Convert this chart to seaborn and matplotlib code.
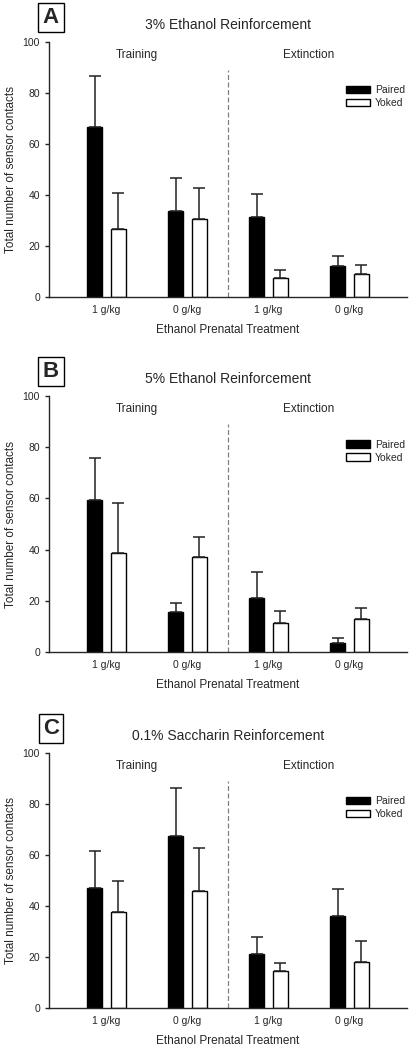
import pandas as pd
import matplotlib.pyplot as plt
import seaborn as sns
from matplotlib.patches import Patch

# x categories (two phases x two prenatal doses)
categories = ["Training 1", "Training 0", "Extinction 1", "Extinction 0"]
tick_labels = ["1 g/kg", "0 g/kg", "1 g/kg", "0 g/kg"]
groups = ["Paired", "Yoked"]

panel_letters = ["A", "B", "C"]
panel_titles = ["3% Ethanol Reinforcement", "5% Ethanol Reinforcement",
                "0.1% Saccharin Reinforcement"]

# means and upper SEM
a_paired = [66.8, 33.7, 31.2, 12.0]
a_paired_sem = [19.9, 12.9, 9.0, 4.2]
a_yoked = [26.8, 30.4, 7.6, 8.9]
a_yoked_sem = [13.9, 12.4, 3.0, 3.5]

b_paired = [59.3, 15.6, 21.1, 3.5]
b_paired_sem = [16.3, 3.7, 10.2, 2.1]
b_yoked = [38.5, 37.2, 11.2, 12.8]
b_yoked_sem = [19.6, 7.9, 4.7, 4.2]

c_paired = [46.9, 67.4, 21.3, 36.1]
c_paired_sem = [14.8, 18.8, 6.7, 10.7]
c_yoked = [37.5, 45.8, 14.5, 18.1]
c_yoked_sem = [12.3, 17.0, 3.2, 8.0]

panels = [
    (a_paired, a_paired_sem, a_yoked, a_yoked_sem),
    (b_paired, b_paired_sem, b_yoked, b_yoked_sem),
    (c_paired, c_paired_sem, c_yoked, c_yoked_sem),
]

sns.set_style("ticks")
plt.rcParams['font.family'] = ['Liberation Sans', 'DejaVu Sans']

fig = plt.figure(figsize=(4.1, 10.5), dpi=100)
# axes boxes in pixels: top (y=100) and bottom (y=0)
ax_boxes = [(42, 297), (396, 652), (753, 1008)]
W, H = 410, 1050
left_px, right_px = 49, 407

for i, (paired, paired_sem, yoked, yoked_sem) in enumerate(panels):
    top, bottom = ax_boxes[i]
    ax = fig.add_axes([left_px / W, 1 - bottom / H, (right_px - left_px) / W, (bottom - top) / H])

    df = pd.DataFrame({
        "cond": categories * 2,
        "group": ["Paired"] * 4 + ["Yoked"] * 4,
        "value": paired + yoked,
    })
    sns.barplot(data=df, x="cond", y="value", hue="group", order=categories,
                hue_order=groups, palette=["black", "white"], edgecolor="black",
                linewidth=1, width=0.59, gap=0.37, errorbar=None, legend=False,
                saturation=1, ax=ax)

    # upward-only error bars
    sems = {"Paired": paired_sem, "Yoked": yoked_sem}
    for cont, g in zip(ax.containers, groups):
        for bar, e in zip(cont, sems[g]):
            xc = bar.get_x() + bar.get_width() / 2
            h = bar.get_height()
            ax.errorbar(xc, h, yerr=[[0], [e]], fmt="none", ecolor="#222222",
                        elinewidth=1.1, capsize=4, capthick=1.1)

    ax.set_xlim(-0.71, 3.71)
    ax.set_ylim(0, 100)
    ax.set_yticks([0, 20, 40, 60, 80, 100])
    ax.set_xticks(range(4))
    ax.set_xticklabels(tick_labels, fontsize=7.5)
    ax.tick_params(axis="x", length=0, pad=6)
    ax.tick_params(axis="y", labelsize=7.5, length=3, width=1, direction="out")
    for s in ["top", "right"]:
        ax.spines[s].set_visible(False)
    for s in ["left", "bottom"]:
        ax.spines[s].set_linewidth(1)

    ax.axvline(1.5, ymin=0, ymax=0.89, color="gray", ls=(0, (4, 2)), lw=0.9)
    ax.text(0.37, 95, "Training", ha="center", va="center", fontsize=8.5)
    ax.text(2.5, 95, "Extinction", ha="center", va="center", fontsize=8.5)

    ax.set_xlabel("Ethanol Prenatal Treatment", fontsize=8.5, labelpad=6)
    ax.set_ylabel("Total number of sensor contacts", fontsize=8.5, labelpad=4)
    ax.text(0.5, 1.067, panel_titles[i], transform=ax.transAxes,
            ha="center", va="center", fontsize=10)

    handles = [Patch(facecolor="black", edgecolor="black", lw=1),
               Patch(facecolor="white", edgecolor="black", lw=1)]
    ax.legend(handles, groups, loc="upper right", bbox_to_anchor=(0.995, 0.83),
              frameon=False, fontsize=7.5, handlelength=2.3, handleheight=0.7,
              labelspacing=0.3, handletextpad=0.5, borderpad=0, borderaxespad=0)

    fig.text(51 / W, 1 - (top - 24.5) / H, panel_letters[i], ha="center",
             va="center", fontsize=16, fontweight="bold",
             bbox=dict(boxstyle="square,pad=0.2", fc="white", ec="black", lw=1))

fig.savefig("out.png", dpi=100)
